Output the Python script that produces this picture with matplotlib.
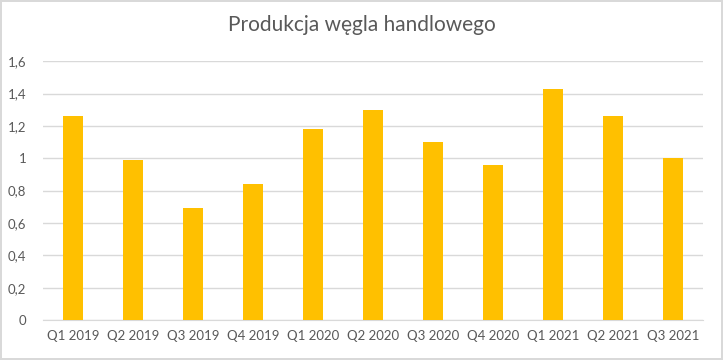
import matplotlib.pyplot as plt
from matplotlib.ticker import FuncFormatter

# data
quarters = ['Q1 2019', 'Q2 2019', 'Q3 2019', 'Q4 2019',
            'Q1 2020', 'Q2 2020', 'Q3 2020', 'Q4 2020',
            'Q1 2021', 'Q2 2021', 'Q3 2021']
production = [1.26, 0.99, 0.69, 0.84, 1.18, 1.30, 1.10, 0.96, 1.43, 1.26, 1.00]
y_ticks = [0, 0.2, 0.4, 0.6, 0.8, 1.0, 1.2, 1.4, 1.6]

plt.rcParams['font.family'] = ['Lato', 'DejaVu Sans']
text_col = '#595959'
grid_col = '#D9D9D9'

fig = plt.figure(figsize=(7.23, 3.6), dpi=100)
fig.patch.set_edgecolor('#D9D9D9')
fig.patch.set_linewidth(1.5)
ax = fig.add_axes([43 / 723, 40 / 360, 660 / 723, 258.7 / 360])

x = range(len(quarters))
ax.bar(x, production, width=0.317, color='#FFC000', zorder=3)

ax.set_xlim(-0.5, len(quarters) - 0.5)
ax.set_ylim(0, 1.6)
ax.set_yticks(y_ticks)
ax.yaxis.set_major_formatter(FuncFormatter(lambda v, p: ('%g' % round(v, 1)).replace('.', ',')))
ax.set_xticks(list(x))
ax.set_xticklabels(quarters)

ax.grid(axis='y', color=grid_col, linewidth=1, zorder=0)
for s in ['top', 'right', 'left']:
    ax.spines[s].set_visible(False)
ax.spines['bottom'].set_color(grid_col)
ax.tick_params(length=0, labelsize=9.5, colors=text_col)
ax.tick_params(axis='y', pad=12)
ax.tick_params(axis='x', pad=7)

fig.text(0.5, 1 - 25 / 360, 'Produkcja węgla handlowego', ha='center', va='center',
         fontsize=15, color=text_col)

fig.savefig('out.png', dpi=100)
